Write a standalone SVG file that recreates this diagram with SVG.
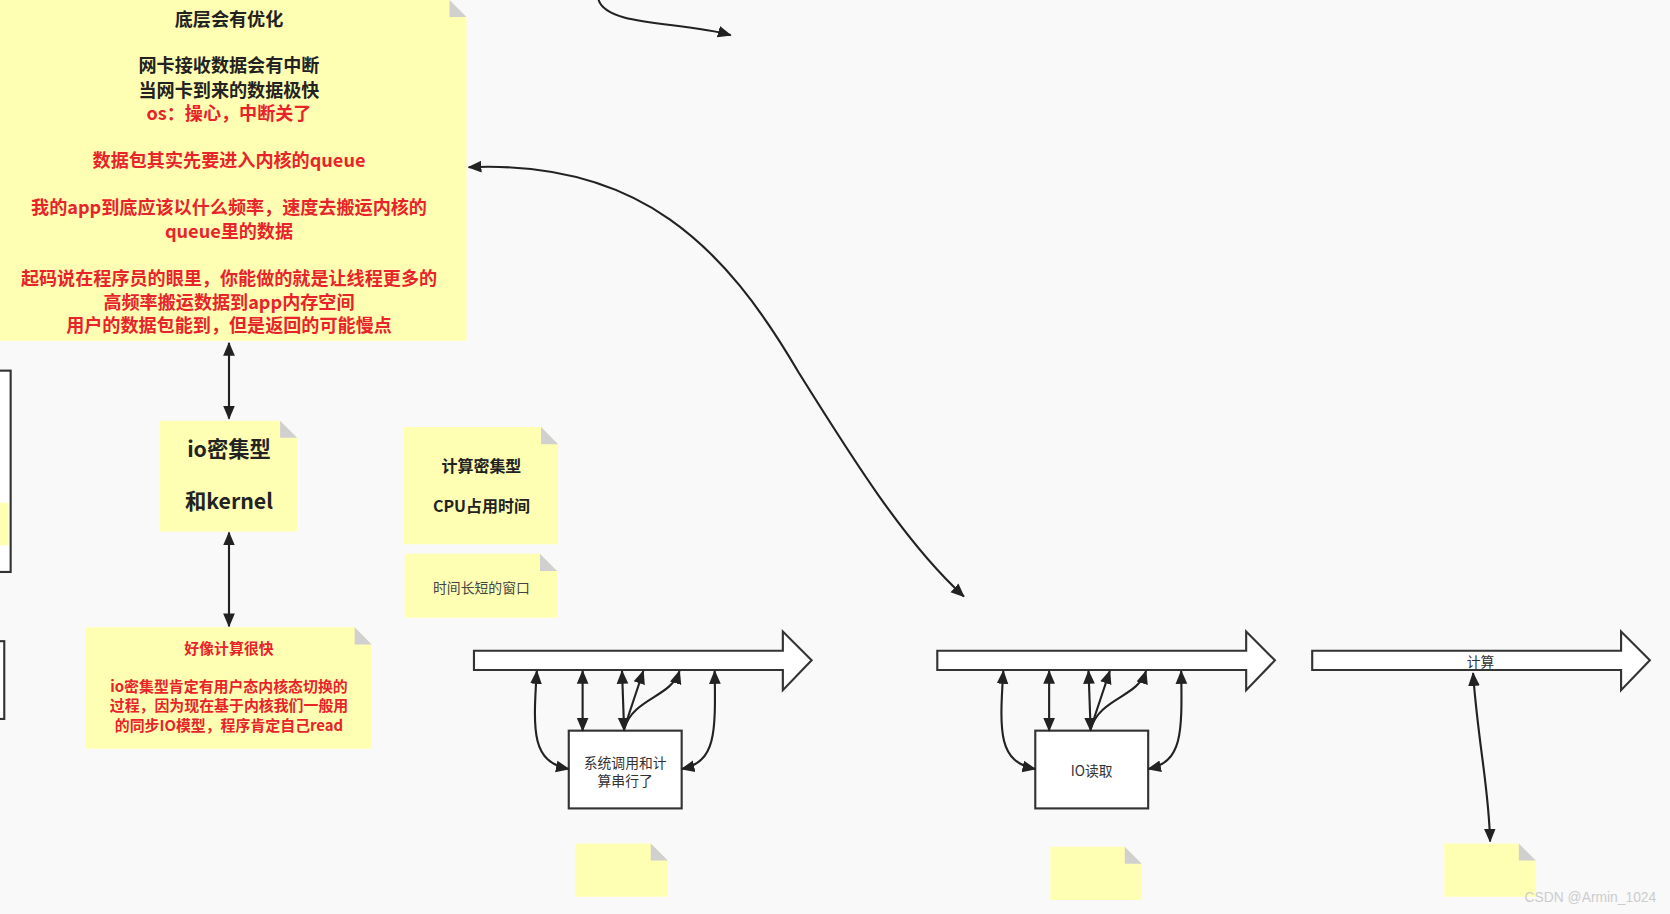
<svg xmlns="http://www.w3.org/2000/svg" width="1670" height="914" viewBox="0 0 1670 914">
<style>
.n{fill:#ffffb3;}
.f{fill:#d0d0d0;}
.b{fill:#fff;stroke:#333;stroke-width:2;}
.c{fill:none;stroke:#222;stroke-width:2;}
.t{font-family:"Noto Sans CJK SC",sans-serif;text-anchor:middle;}
.bd{font-weight:bold;font-size:17px;}
.r{fill:#e8232a;}
.k{fill:#222;}
</style>
<defs>
<marker id="a" markerWidth="13" markerHeight="12" refX="12" refY="6" orient="auto-start-reverse" markerUnits="userSpaceOnUse"><path d="M0,0.5 L13,6 L0,11.5 Z" fill="#222"/></marker>
</defs>
<rect width="1670" height="914" fill="#f9f9f9"/>
<g transform="scale(1.0651)">
<g id="left-boxes">
<rect class="b" x="-5" y="348" width="15" height="189"/>
<rect class="n" x="-5" y="472" width="13" height="40"/>
<rect class="b" x="-5" y="602" width="9" height="73"/>
</g>
<g id="note-top">
<path class="n" d="M0,0 H422 L438,16 V320 H0 Z"/>
<path class="f" d="M422,0 L438,16 H422 Z"/>
<text class="t bd k" x="215" y="24">底层会有优化</text>
<text class="t bd k" x="215" y="68">网卡接收数据会有中断</text>
<text class="t bd k" x="215" y="91">当网卡到来的数据极快</text>
<text class="t bd r" x="215" y="113">os：操心，中断关了</text>
<text class="t bd r" x="215" y="157">数据包其实先要进入内核的queue</text>
<text class="t bd r" x="215" y="201">我的app到底应该以什么频率，速度去搬运内核的</text>
<text class="t bd r" x="215" y="223">queue里的数据</text>
<text class="t bd r" x="215" y="268">起码说在程序员的眼里，你能做的就是让线程更多的</text>
<text class="t bd r" x="215" y="290">高频率搬运数据到app内存空间</text>
<text class="t bd r" x="215" y="312">用户的数据包能到，但是返回的可能慢点</text>
</g>
<g id="note-io">
<path class="n" d="M150,395 H263 L279,411 V499 H150 Z"/>
<path class="f" d="M263,395 L279,411 H263 Z"/>
<text class="t k" x="215" y="429" font-size="20" font-weight="bold">io密集型</text>
<text class="t k" x="215" y="478" font-size="20" font-weight="bold">和kernel</text>
</g>
<g id="note-cpu">
<path class="n" d="M379,401 H508 L524,417 V511 H379 Z"/>
<path class="f" d="M508,401 L524,417 H508 Z"/>
<text class="t k" x="452" y="443" font-size="15" font-weight="bold">计算密集型</text>
<text class="t k" x="452" y="481" font-size="15" font-weight="bold">CPU占用时间</text>
</g>
<g id="note-time">
<path class="n" d="M380,520 H507 L523,536 V580 H380 Z"/>
<path class="f" d="M507,520 L523,536 H507 Z"/>
<text class="t" x="452" y="557" font-size="13" fill="#444">时间长短的窗口</text>
</g>
<g id="note-fast">
<path class="n" d="M80,589 H333 L349,605 V703 H80 Z"/>
<path class="f" d="M333,589 L349,605 H333 Z"/>
<text class="t r" x="215" y="614" font-size="14" font-weight="bold">好像计算很快</text>
<text class="t r" x="215" y="650" font-size="14" font-weight="bold">io密集型肯定有用户态内核态切换的</text>
<text class="t r" x="215" y="668" font-size="14" font-weight="bold">过程，因为现在基于内核我们一般用</text>
<text class="t r" x="215" y="686" font-size="14" font-weight="bold">的同步IO模型，程序肯定自己read</text>
</g>
<g id="arrow1"><path class="b" d="M445,611 H735 V593 L762,620 L735,648 V629 H445 Z"/></g>
<g id="arrow2"><path class="b" d="M880,611 H1170 V593 L1197,620 L1170,648 V629 H880 Z"/></g>
<g id="arrow3"><path class="b" d="M1232,611 H1522 V593 L1549,620 L1522,648 V629 H1232 Z"/>
<text class="t" x="1390" y="626" font-size="13" fill="#333">计算</text></g>
<g id="box1"><rect class="b" x="534" y="686" width="106" height="73"/>
<text class="t" x="587" y="721" font-size="13" fill="#333">系统调用和计</text>
<text class="t" x="587" y="738" font-size="13" fill="#333">算串行了</text></g>
<g id="box2"><rect class="b" x="972" y="686" width="106" height="73"/>
<text class="t" x="1025" y="729" font-size="13" fill="#333">IO读取</text></g>
<g id="note-b1"><path class="n" d="M540,792 H611 L627,808 V842 H540 Z"/><path class="f" d="M611,792 L627,808 H611 Z"/></g>
<g id="note-b2"><path class="n" d="M986,795 H1056 L1072,811 V845 H986 Z"/><path class="f" d="M1056,795 L1072,811 H1056 Z"/></g>
<g id="note-b3"><path class="n" d="M1356,792 H1426 L1442,808 V842 H1356 Z"/><path class="f" d="M1426,792 L1442,808 H1426 Z"/></g>
<g id="connectors">
<path class="c" d="M562,0 C570,25 640,20 686,33" marker-end="url(#a)"/>
<path class="c" d="M440,157 C600,150 680,230 750,350 C800,430 850,510 905,560" marker-start="url(#a)" marker-end="url(#a)"/>
<path class="c" d="M215,322 V393" marker-start="url(#a)" marker-end="url(#a)"/>
<path class="c" d="M215,500 V588" marker-start="url(#a)" marker-end="url(#a)"/>
<g id="c1">
<path class="c" d="M534,722 C500,715 500,690 504,630" marker-start="url(#a)" marker-end="url(#a)"/>
<path class="c" d="M547,686 V630" marker-start="url(#a)" marker-end="url(#a)"/>
<path class="c" d="M586,686 L584,630" marker-start="url(#a)" marker-end="url(#a)"/>
<path class="c" d="M586,684 L604,630" marker-end="url(#a)"/>
<path class="c" d="M586,684 C595,655 630,655 638,630" marker-end="url(#a)"/>
<path class="c" d="M640,722 C672,715 672,690 671,630" marker-start="url(#a)" marker-end="url(#a)"/>
</g>
<g transform="translate(438,0)">
<path class="c" d="M534,722 C500,715 500,690 504,630" marker-start="url(#a)" marker-end="url(#a)"/>
<path class="c" d="M547,686 V630" marker-start="url(#a)" marker-end="url(#a)"/>
<path class="c" d="M586,686 L584,630" marker-start="url(#a)" marker-end="url(#a)"/>
<path class="c" d="M586,684 L604,630" marker-end="url(#a)"/>
<path class="c" d="M586,684 C595,655 630,655 638,630" marker-end="url(#a)"/>
<path class="c" d="M640,722 C672,715 672,690 671,630" marker-start="url(#a)" marker-end="url(#a)"/>
</g>
<path class="c" d="M1383,632 C1388,700 1398,740 1399,790" marker-start="url(#a)" marker-end="url(#a)"/>
</g>
<text x="1555" y="847" font-family="Liberation Sans,sans-serif" font-size="13" fill="#ccc" text-anchor="end">CSDN @Armin_1024</text>
</g>
</svg>
